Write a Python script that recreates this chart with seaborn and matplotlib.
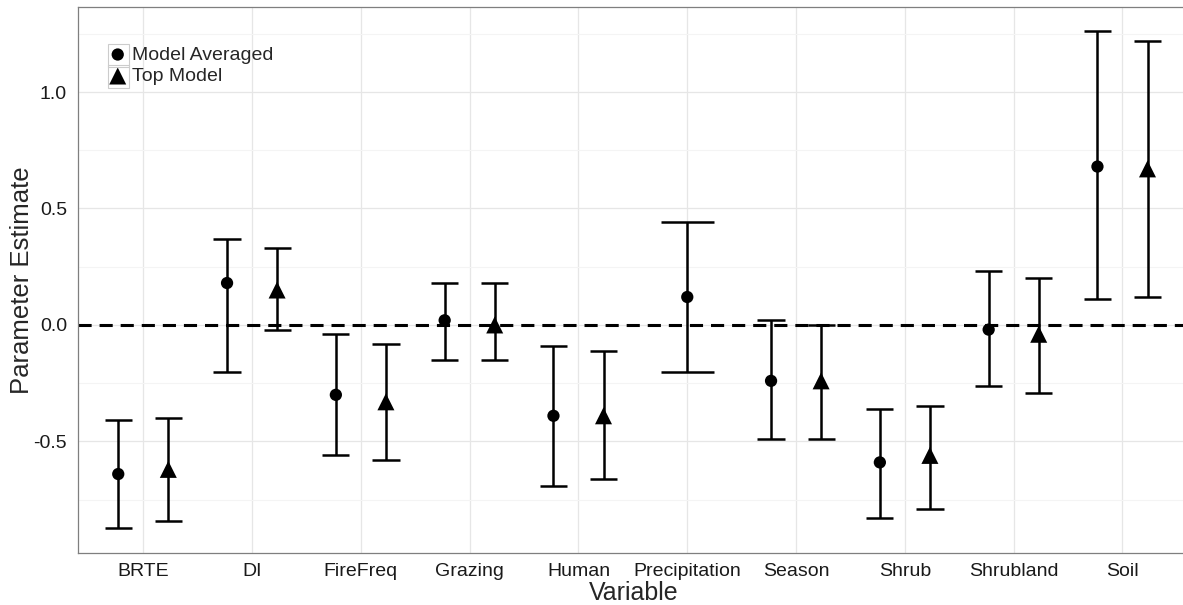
import numpy as np
import pandas as pd
import matplotlib
matplotlib.use("Agg")
import matplotlib.pyplot as plt
from matplotlib.patches import Rectangle
from matplotlib.transforms import IdentityTransform
import seaborn as sns

# Parameter estimates with lower/upper confidence limits
variables = ["BRTE", "DI", "FireFreq", "Grazing", "Human", "Precipitation",
             "Season", "Shrub", "Shrubland", "Soil"]

avg_est = [-0.64, 0.18, -0.30, 0.02, -0.39, 0.12, -0.24, -0.59, -0.02, 0.68]
avg_lo = [-0.87, -0.20, -0.56, -0.15, -0.69, -0.20, -0.49, -0.83, -0.26, 0.11]
avg_hi = [-0.41, 0.37, -0.04, 0.18, -0.09, 0.44, 0.02, -0.36, 0.23, 1.26]

top_est = [-0.62, 0.15, -0.33, 0.00, -0.39, np.nan, -0.24, -0.56, -0.04, 0.67]
top_lo = [-0.84, -0.02, -0.58, -0.15, -0.66, np.nan, -0.49, -0.79, -0.29, 0.12]
top_hi = [-0.40, 0.33, -0.08, 0.18, -0.11, np.nan, 0.00, -0.35, 0.20, 1.22]

model_names = ["Model Averaged", "Top Model"]

sns.set_style("white")
plt.rcParams["font.family"] = ["Liberation Sans", "DejaVu Sans"]

# Long-format table with dodged x positions
rows = []
for i, v in enumerate(variables):
    pair = not np.isnan(top_est[i])
    for k, (e, lo, hi) in enumerate([(avg_est[i], avg_lo[i], avg_hi[i]),
                                     (top_est[i], top_lo[i], top_hi[i])]):
        if np.isnan(e):
            continue
        off = (-0.23 if k == 0 else 0.23) if pair else 0.0
        cap = 0.125 if pair else 0.245
        rows.append(dict(variable=v, model=model_names[k], x=i + off,
                         est=e, lo=lo, hi=hi, cap=cap))
df = pd.DataFrame(rows)

W, H = 1183, 605
fig = plt.figure(figsize=(W / 100, H / 100), dpi=100)
left, right_px, top, bottom = 78, 78 + 10.2 * 108.8, 7, 553
ax = fig.add_axes([left / W, (H - bottom) / H, (right_px - left) / W, (bottom - top) / H])

ax.set_xlim(-0.6, 9.6)
ax.set_ylim(-0.979, 1.365)

# grid
ax.set_yticks([-0.5, 0.0, 0.5, 1.0])
ax.set_yticks([-0.75, -0.25, 0.25, 0.75, 1.25], minor=True)
ax.set_xticks(range(len(variables)))
ax.set_axisbelow(True)
ax.grid(which="major", color="#E6E6E6", linewidth=0.9)
ax.grid(which="minor", axis="y", color="#F4F4F4", linewidth=0.8)

# reference line at zero
ax.axhline(0, color="black", linewidth=2.2, linestyle=(0, (4.3, 2.6)), zorder=2)

# error bars
ax.vlines(df["x"], df["lo"], df["hi"], color="black", linewidth=1.8, zorder=3)
ax.hlines(df["lo"], df["x"] - df["cap"], df["x"] + df["cap"], color="black", linewidth=1.8, zorder=3)
ax.hlines(df["hi"], df["x"] - df["cap"], df["x"] + df["cap"], color="black", linewidth=1.8, zorder=3)

# points
sns.scatterplot(data=df[df["model"] == "Model Averaged"], x="x", y="est", marker="o",
                s=78, color="black", edgecolor="none", label="Model Averaged", ax=ax, zorder=4)
sns.scatterplot(data=df[df["model"] == "Top Model"], x="x", y="est", marker="^",
                s=150, color="black", edgecolor="none", label="Top Model", ax=ax, zorder=4)

ax.set_xticklabels(variables)
ax.set_yticklabels(["-0.5", "0.0", "0.5", "1.0"])
ax.tick_params(axis="both", which="major", labelsize=14, labelcolor="#1a1a1a",
               color="#7f7f7f", length=4, width=0.9, direction="out")
ax.tick_params(axis="x", pad=3)
ax.tick_params(axis="y", pad=4)
ax.tick_params(which="minor", length=0)

for s in ax.spines.values():
    s.set_color("#7f7f7f")
    s.set_linewidth(0.9)

ax.set_xlabel("Variable", fontsize=18, va="baseline")
ax.set_ylabel("Parameter Estimate", fontsize=18.5, va="center")
ax.xaxis.set_label_coords((633.5 - left) / (right_px - left), -(600 - bottom) / (bottom - top))
ax.yaxis.set_label_coords(-(left - 22) / (right_px - left), 0.5)

leg = ax.legend(loc="upper left",
                bbox_to_anchor=((108 - left) / (right_px - left), 1 - (46 - top) / (bottom - top)),
                frameon=False, fontsize=14, handlelength=1.0, handletextpad=0.25,
                labelspacing=0.2, borderpad=0, borderaxespad=0)

# grey key boxes behind legend symbols
fig.canvas.draw()
renderer = fig.canvas.get_renderer()
for t in leg.get_texts():
    bb = t.get_window_extent(renderer)
    cy = (bb.y0 + bb.y1) / 2
    box = Rectangle((bb.x0 - 24, cy - 11.5), 21, 23, transform=IdentityTransform(),
                    facecolor="none", edgecolor="#cccccc", linewidth=0.8, zorder=5)
    fig.patches.append(box)

fig.savefig("out.png", dpi=100)
